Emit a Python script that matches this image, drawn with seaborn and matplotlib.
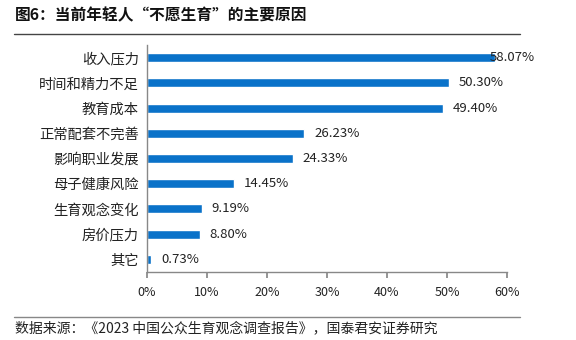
import matplotlib
matplotlib.use("Agg")
import matplotlib.pyplot as plt
import seaborn as sns
import pandas as pd
from matplotlib.ticker import FuncFormatter, FixedLocator

reasons = ["收入压力", "时间和精力不足", "教育成本", "正常配套不完善", "影响职业发展",
           "母子健康风险", "生育观念变化", "房价压力", "其它"]
shares = [58.07, 50.30, 49.40, 26.23, 24.33, 14.45, 9.19, 8.80, 0.73]
x_ticks = [0, 10, 20, 30, 40, 50, 60]

sns.set_theme(style="white")
plt.rcParams["font.family"] = ["Noto Sans CJK SC", "DejaVu Sans"]

df = pd.DataFrame({"reason": reasons, "share": shares})

fig = plt.figure(figsize=(5.76, 3.4), dpi=100)
ax = fig.add_axes([0.2552, 0.2, 0.625, 0.6676])

sns.barplot(data=df, x="share", y="reason", orient="h", color="#0a72c9",
            saturation=1, width=0.36, ax=ax)

ax.set_xlim(0, 60)
ax.set_ylim(len(reasons) - 0.5, -0.5)
ax.xaxis.set_major_locator(FixedLocator(x_ticks))
ax.xaxis.set_major_formatter(FuncFormatter(lambda v, p: f"{v:.0f}%"))
ax.set_xlabel("")
ax.set_ylabel("")

for s in ["top", "right"]:
    ax.spines[s].set_visible(False)
for s in ["left", "bottom"]:
    ax.spines[s].set_color("#888888")
    ax.spines[s].set_linewidth(1.0)

# category labels centred on bars, tick marks on the category boundaries
ax.set_yticks(range(len(reasons)))
ax.set_yticklabels(reasons, fontsize=10.3, color="#222222")
ax.tick_params(axis="y", length=0, pad=6)
ax.set_yticks([i - 0.5 for i in range(len(reasons) + 1)], minor=True)
ax.tick_params(axis="y", which="minor", length=4, color="#888888", direction="out")
ax.tick_params(axis="x", length=4, color="#888888", direction="out",
               labelsize=9, labelcolor="#222222", pad=6)
ax.tick_params(axis="x", bottom=True)

for i, v in enumerate(shares):
    if v > 55:
        ax.annotate(f"{v:.2f}%", xy=(v, i), xytext=(-4, 0), textcoords="offset points",
                    ha="left", va="center", fontsize=9.5, color="#222222")
    else:
        ax.annotate(f"{v:.2f}%", xy=(v, i), xytext=(7, 0), textcoords="offset points",
                    ha="left", va="center", fontsize=9.5, color="#222222")

# title with rule beneath
fig.text(0.026, 0.955, "图6：当前年轻人“不愿生育”的主要原因", fontsize=11.3,
         fontweight="bold", ha="left", va="center", color="#111111")
fig.add_artist(plt.Line2D([0.024, 0.903], [0.9, 0.9], color="#444444", lw=1.0))

# source line
fig.add_artist(plt.Line2D([0.024, 0.903], [0.068, 0.068], color="#888888", lw=1.0))
fig.text(0.026, 0.035, "数据来源：《2023 中国公众生育观念调查报告》，国泰君安证券研究",
         fontsize=10, ha="left", va="center", color="#222222")

fig.savefig("out.png", dpi=100)
